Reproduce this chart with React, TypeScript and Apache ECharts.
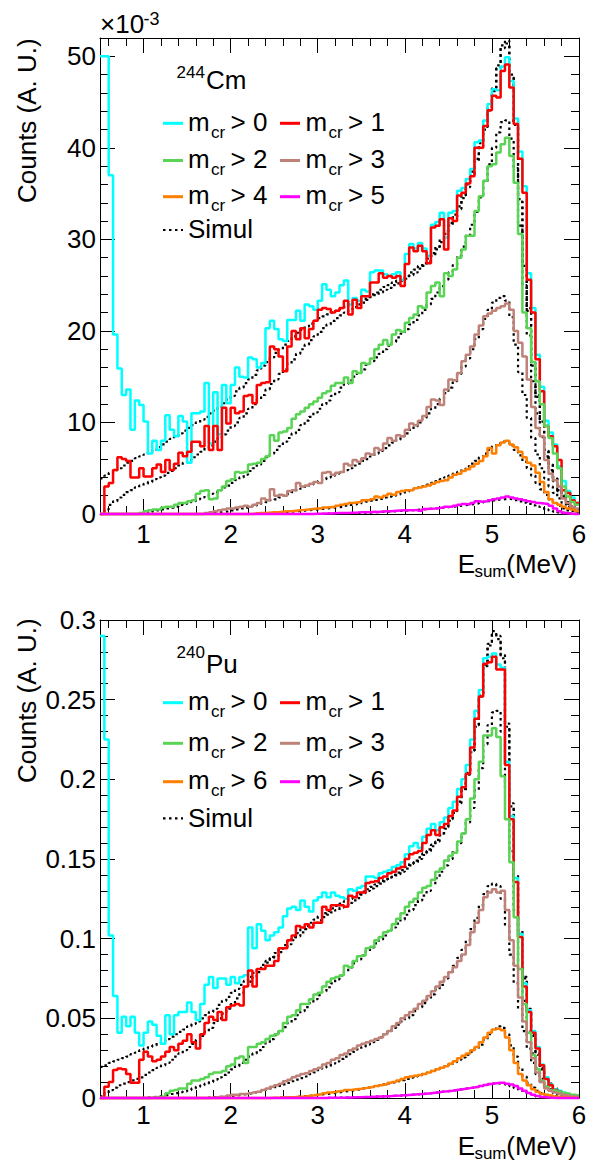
import React, { useEffect, useRef } from "react";
import * as echarts from "echarts";

// ---------- binning (E_sum in MeV) ----------
const E_MIN = 0.5;
const E_MAX = 6;
const BIN_W = 0.05;

// ---------- tick values ----------
const X_MAJOR = [1, 2, 3, 4, 5, 6];
const X_MINOR = [0.6, 0.8, 1.2, 1.4, 1.6, 1.8, 2.2, 2.4, 2.6, 2.8, 3.2, 3.4, 3.6, 3.8, 4.2, 4.4, 4.6, 4.8, 5.2, 5.4, 5.6, 5.8];
const Y_TOP_MAJOR = [0, 10, 20, 30, 40, 50];
const Y_TOP_MINOR = [2, 4, 6, 8, 12, 14, 16, 18, 22, 24, 26, 28, 32, 34, 36, 38, 42, 44, 46, 48];
const Y_BOT_MAJOR = [0, 0.05, 0.1, 0.15, 0.2, 0.25, 0.3];
const Y_BOT_MINOR = [0.01, 0.02, 0.03, 0.04, 0.06, 0.07, 0.08, 0.09, 0.11, 0.12, 0.13, 0.14, 0.16, 0.17, 0.18, 0.19, 0.21, 0.22, 0.23, 0.24, 0.26, 0.27, 0.28, 0.29];

// ---------- 244Cm panel, counts in units of 1e-3 ----------
const cmM0 = [
  50, 50, 37, 19.6, 15.9, 13.0, 13.6, 9.2, 12.4, 11.9,
  10.1, 6.6, 8.0, 7.0, 8.0, 10.8, 9.2, 8.5, 10.7, 10.1,
  5.6, 11.0, 11.0, 11.2, 14.3, 7.7, 13.3, 8.7, 14.1, 12.1,
  14.1, 16.0, 15.0, 14.9, 17.1, 16.9, 16.0, 16.5, 20.3, 21.1,
  20.2, 19.1, 18.9, 21.2, 21.2, 22.2, 21.1, 22.9, 22.7, 22.3,
  23.3, 25.1, 24.5, 23.8, 24.2, 25.0, 25.5, 22.9, 23.6, 23.3,
  24.5, 24.3, 26.4, 26.6, 26.6, 26.2, 26.0, 26.2, 26.4, 25.6,
  28.4, 29.5, 29.0, 29.6, 29.0, 28.2, 31.6, 31.9, 32.9, 30.2,
  32.9, 33.1, 35.3, 35.6, 36.6, 37.7, 40.6, 40.8, 43.0, 44.8,
  46.4, 46.3, 48.9, 49.9, 47.3, 43.2, 39.6, 35.8, 26.3, 22.5,
  17.4, 13.9, 10.2, 8.9, 7.6, 5.2, 3.6, 2.5, 1.8, 1.2,
];
const cmM1 = [
  0, 3.0, 3.4, 4.8, 6.2, 6.0, 5.8, 4.0, 4.0, 5.0,
  4.1, 4.1, 5.0, 5.4, 4.6, 5.9, 4.8, 5.5, 6.7, 6.3,
  6.8, 7.9, 7.9, 7.4, 9.6, 7.0, 9.6, 7.0, 11.6, 9.9,
  11.6, 11.0, 11.2, 12.9, 13.0, 12.1, 14.1, 14.3, 14.4, 18.3,
  18.0, 17.2, 15.6, 18.3, 20.0, 19.1, 20.3, 19.2, 20.2, 21.1,
  22.3, 22.5, 22.4, 22.0, 22.2, 22.5, 23.3, 21.8, 23.4, 22.5,
  23.8, 23.8, 25.3, 25.3, 26.3, 25.8, 26.0, 25.8, 26.0, 24.9,
  27.3, 29.1, 28.7, 29.3, 28.7, 27.4, 31.3, 31.5, 32.2, 28.9,
  32.3, 32.0, 34.8, 35.1, 36.1, 36.9, 40.0, 40.0, 42.4, 44.1,
  45.7, 45.5, 48.4, 49.1, 46.6, 42.6, 38.8, 35.1, 25.6, 22.0,
  16.9, 13.4, 9.6, 8.5, 7.4, 5.9, 2.6, 2.3, 1.5, 1.2,
];
const cmM2 = [
  0, 0, 0, 0, 0, 0, 0, 0, 0, 0.1,
  0.3, 0.4, 0.5, 0.5, 0.7, 0.8, 0.8, 1.0, 1.2, 1.2,
  1.4, 1.5, 2.2, 2.5, 2.6, 1.6, 1.7, 2.6, 3.0, 3.6,
  3.8, 4.6, 4.5, 4.6, 5.4, 5.5, 5.6, 6.0, 6.3, 8.6,
  8.0, 8.9, 9.0, 9.4, 10.4, 10.9, 11.2, 11.6, 12.0, 12.3,
  12.7, 13.2, 13.4, 14.0, 14.3, 14.3, 14.9, 14.3, 15.6, 15.4,
  16.5, 16.4, 17.0, 18.0, 18.5, 19.0, 18.5, 19.6, 20.1, 19.9,
  20.9, 21.4, 21.8, 22.7, 22.5, 24.2, 24.9, 25.3, 23.8, 26.3,
  26.0, 26.7, 28.0, 28.9, 30.4, 30.4, 33.1, 34.7, 36.4, 38.0,
  38.2, 39.5, 40.4, 41.1, 39.1, 36.2, 30.6, 22.0, 20.3, 16.6,
  14.5, 12.0, 9.6, 8.3, 6.6, 5.0, 3.0, 1.9, 1.3, 1.0,
];
const cmM3 = [
  0, 0, 0, 0, 0, 0, 0, 0, 0, 0,
  0, 0, 0, 0, 0, 0, 0, 0, 0, 0,
  0, 0, 0, 0, 0.1, 0.2, 0.3, 0.4, 0.5, 0.6,
  0.6, 0.7, 0.8, 0.9, 0.8, 1.0, 1.2, 1.7, 1.5, 2.7,
  2.0, 2.1, 2.0, 2.5, 2.6, 3.4, 3.0, 3.1, 3.3, 3.5,
  3.4, 4.5, 4.6, 4.3, 4.5, 4.6, 5.5, 5.3, 5.9, 5.7,
  6.1, 6.6, 6.5, 7.2, 7.0, 7.7, 8.3, 8.0, 8.6, 8.5,
  9.2, 9.9, 9.7, 10.2, 10.7, 11.7, 12.5, 12.4, 11.9, 13.6,
  14.7, 14.6, 15.4, 16.7, 17.4, 18.3, 19.6, 20.6, 21.6, 21.9,
  22.2, 22.5, 22.7, 23.0, 22.3, 20.0, 18.7, 17.2, 14.7, 11.7,
  9.4, 8.5, 5.9, 4.4, 3.7, 3.0, 1.7, 1.2, 0.8, 0.6,
];
const cmM4 = [
  0, 0, 0, 0, 0, 0, 0, 0, 0, 0,
  0, 0, 0, 0, 0, 0, 0, 0, 0, 0,
  0, 0, 0, 0, 0, 0, 0, 0, 0, 0,
  0, 0, 0, 0, 0, 0.05, 0.1, 0.1, 0.15, 0.2,
  0.2, 0.25, 0.3, 0.3, 0.35, 0.4, 0.45, 0.5, 0.55, 0.6,
  0.6, 0.7, 0.75, 0.8, 0.9, 1.0, 1.1, 1.2, 1.25, 1.3,
  1.5, 1.5, 1.6, 1.9, 1.8, 2.0, 2.2, 2.1, 2.4, 2.5,
  2.6, 2.6, 2.8, 2.9, 3.0, 3.1, 3.3, 3.5, 3.6, 3.7,
  4.0, 4.3, 4.4, 4.7, 4.9, 5.2, 5.5, 5.8, 6.3, 7.2,
  6.6, 7.5, 7.8, 8.0, 7.6, 7.3, 6.8, 6.2, 5.6, 5.3,
  4.5, 3.5, 2.4, 1.6, 1.2, 1.0, 0.8, 0.6, 0.5, 0.3,
];
const cmM5 = [
  0, 0, 0, 0, 0, 0, 0, 0, 0, 0,
  0, 0, 0, 0, 0, 0, 0, 0, 0, 0,
  0, 0, 0, 0, 0, 0, 0, 0, 0, 0,
  0, 0, 0, 0, 0, 0, 0, 0, 0, 0,
  0, 0, 0, 0, 0, 0, 0, 0, 0, 0.02,
  0.03, 0.05, 0.05, 0.08, 0.1, 0.1, 0.12, 0.15, 0.15, 0.18,
  0.2, 0.2, 0.25, 0.22, 0.28, 0.3, 0.3, 0.35, 0.38, 0.4,
  0.42, 0.4, 0.45, 0.35, 0.55, 0.58, 0.6, 0.65, 0.72, 0.8,
  0.8, 0.9, 1.0, 1.1, 1.05, 1.2, 1.4, 1.35, 1.4, 1.5,
  1.6, 1.7, 1.8, 1.9, 1.8, 1.7, 1.6, 1.5, 1.4, 1.3,
  1.2, 1.15, 1.1, 0.9, 0.6, 0.3, 0.1, 0.05, 0, 0,
];
const cmS0 = [
  3.9, 4.2, 4.5, 4.8, 5.0, 5.3, 5.6, 5.8, 6.1, 6.3,
  6.5, 6.8, 7.0, 7.3, 7.6, 7.9, 8.2, 8.5, 8.8, 9.1,
  9.4, 9.7, 10.0, 10.3, 10.6, 11.0, 11.3, 11.7, 12.1, 12.5,
  12.9, 13.4, 13.8, 14.3, 14.7, 15.2, 15.7, 16.2, 16.6, 17.1,
  17.6, 18.0, 18.5, 18.9, 19.4, 19.8, 20.1, 20.5, 20.8, 21.1,
  21.4, 21.6, 21.8, 22.0, 22.2, 22.4, 22.6, 22.8, 23.0, 23.2,
  23.4, 23.7, 24.0, 24.2, 24.5, 24.8, 25.0, 25.3, 25.5, 25.8,
  26.0, 26.4, 26.7, 27.1, 27.4, 27.9, 28.5, 29.2, 30.0, 30.9,
  31.8, 32.7, 33.6, 34.8, 36.0, 37.4, 38.8, 40.5, 42.3, 44.4,
  46.5, 49.0, 51.2, 51.7, 48.0, 42.8, 34.4, 27.4, 22.5, 16.5,
  13.0, 10.3, 7.0, 5.5, 4.0, 2.6, 2.0, 1.2, 0.8, 0.5,
];
const cmS1 = [
  0, 0.5, 1.0, 1.4, 1.8, 2.1, 2.4, 2.6, 2.9, 3.1,
  3.3, 3.5, 3.8, 4.0, 4.2, 4.5, 4.7, 5.0, 5.3, 5.6,
  5.9, 6.2, 6.5, 6.8, 7.2, 7.5, 7.9, 8.3, 8.7, 9.1,
  9.6, 10.0, 10.5, 11.0, 11.5, 12.0, 12.5, 13.0, 13.6, 14.2,
  14.7, 15.3, 15.8, 16.4, 16.9, 17.5, 18.0, 18.5, 19.0, 19.4,
  19.9, 20.3, 20.7, 21.1, 21.4, 21.7, 22.0, 22.3, 22.6, 22.9,
  23.1, 23.4, 23.7, 23.9, 24.2, 24.5, 24.7, 25.0, 25.2, 25.5,
  25.7, 26.1, 26.4, 26.8, 27.1, 27.6, 28.2, 28.9, 29.7, 30.6,
  31.5, 32.4, 33.3, 34.5, 35.7, 37.1, 38.5, 40.2, 42.0, 44.1,
  46.2, 48.7, 50.9, 51.4, 47.7, 42.5, 34.1, 27.1, 22.2, 16.2,
  12.8, 10.1, 6.9, 5.4, 3.9, 2.5, 1.9, 1.1, 0.7, 0.4,
];
const cmS2 = [
  0, 0, 0, 0, 0, 0, 0, 0, 0, 0,
  0.1, 0.2, 0.3, 0.4, 0.5, 0.6, 0.7, 0.8, 1.0, 1.1,
  1.3, 1.4, 1.6, 1.8, 2.0, 2.2, 2.4, 2.6, 2.9, 3.1,
  3.4, 3.7, 4.0, 4.3, 4.7, 5.0, 5.4, 5.8, 6.2, 6.6,
  7.0, 7.4, 7.9, 8.3, 8.8, 9.2, 9.7, 10.2, 10.6, 11.1,
  11.5, 12.0, 12.4, 12.9, 13.3, 13.8, 14.2, 14.6, 15.0, 15.4,
  15.8, 16.3, 16.7, 17.1, 17.5, 18.0, 18.4, 18.8, 19.3, 19.7,
  20.2, 20.7, 21.2, 21.7, 22.3, 22.9, 23.5, 24.2, 24.9, 25.6,
  26.4, 27.2, 28.2, 29.2, 30.4, 31.6, 33.0, 34.6, 36.3, 38.2,
  40.0, 41.7, 42.8, 43.0, 41.0, 37.8, 31.5, 25.0, 19.5, 14.5,
  11.0, 8.4, 6.3, 4.8, 3.6, 2.6, 1.9, 1.3, 0.9, 0.5,
];
const cmS3 = [
  0, 0, 0, 0, 0, 0, 0, 0, 0, 0,
  0, 0, 0, 0, 0, 0, 0, 0, 0, 0,
  0, 0, 0, 0, 0.05, 0.1, 0.15, 0.2, 0.25, 0.3,
  0.4, 0.5, 0.6, 0.7, 0.8, 0.9, 1.0, 1.2, 1.3, 1.5,
  1.6, 1.8, 2.0, 2.2, 2.4, 2.6, 2.8, 3.0, 3.2, 3.4,
  3.6, 3.8, 4.0, 4.2, 4.4, 4.6, 4.8, 5.0, 5.3, 5.5,
  5.8, 6.0, 6.3, 6.6, 6.9, 7.2, 7.5, 7.8, 8.1, 8.5,
  8.8, 9.2, 9.6, 10.0, 10.5, 11.0, 11.5, 12.0, 12.6, 13.2,
  13.8, 14.5, 15.3, 16.1, 17.0, 18.0, 19.1, 20.2, 21.3, 22.3,
  23.1, 23.6, 23.8, 23.3, 21.5, 18.5, 15.5, 13.0, 10.5, 8.3,
  6.5, 5.0, 3.9, 3.0, 2.3, 1.7, 1.2, 0.8, 0.5, 0.3,
];
const cmS4 = [
  0, 0, 0, 0, 0, 0, 0, 0, 0, 0,
  0, 0, 0, 0, 0, 0, 0, 0, 0, 0,
  0, 0, 0, 0, 0, 0, 0, 0, 0, 0,
  0, 0, 0, 0, 0, 0.05, 0.08, 0.1, 0.12, 0.15,
  0.18, 0.2, 0.23, 0.26, 0.3, 0.33, 0.37, 0.4, 0.45, 0.5,
  0.55, 0.6, 0.65, 0.7, 0.75, 0.8, 0.9, 1.0, 1.05, 1.15,
  1.25, 1.35, 1.45, 1.55, 1.65, 1.8, 1.9, 2.0, 2.15, 2.3,
  2.45, 2.6, 2.75, 2.9, 3.05, 3.2, 3.4, 3.6, 3.8, 4.0,
  4.2, 4.4, 4.6, 4.9, 5.2, 5.5, 5.8, 6.2, 6.6, 7.0,
  7.4, 7.7, 7.9, 7.9, 7.5, 7.0, 6.4, 5.7, 5.0, 4.2,
  3.4, 2.7, 2.1, 1.6, 1.2, 0.9, 0.6, 0.4, 0.3, 0.2,
];
const cmS5 = [
  0, 0, 0, 0, 0, 0, 0, 0, 0, 0,
  0, 0, 0, 0, 0, 0, 0, 0, 0, 0,
  0, 0, 0, 0, 0, 0, 0, 0, 0, 0,
  0, 0, 0, 0, 0, 0, 0, 0, 0, 0,
  0, 0, 0, 0, 0, 0, 0, 0, 0, 0,
  0.02, 0.03, 0.04, 0.05, 0.06, 0.07, 0.08, 0.1, 0.11, 0.13,
  0.15, 0.17, 0.19, 0.21, 0.23, 0.25, 0.28, 0.3, 0.33, 0.36,
  0.39, 0.42, 0.45, 0.49, 0.52, 0.56, 0.6, 0.64, 0.69, 0.74,
  0.79, 0.84, 0.9, 0.96, 1.02, 1.09, 1.16, 1.24, 1.32, 1.4,
  1.48, 1.56, 1.62, 1.65, 1.6, 1.5, 1.38, 1.25, 1.1, 0.95,
  0.8, 0.65, 0.5, 0.38, 0.27, 0.18, 0.12, 0.07, 0.04, 0.02,
];

// ---------- 240Pu panel, counts in units of 1e-2 ----------
const puM0 = [
  29.0, 22.5, 10.2, 6.4, 4.1, 5.1, 4.5, 5.1, 4.1, 3.3,
  4.1, 4.8, 4.6, 3.9, 3.4, 5.2, 4.0, 5.2, 5.4, 5.4,
  6.0, 5.4, 4.9, 5.9, 7.1, 7.6, 6.9, 7.5, 7.5, 7.1,
  7.6, 7.2, 7.6, 7.7, 10.7, 9.4, 10.9, 10.5, 9.9, 10.2,
  10.4, 10.7, 11.4, 11.9, 12.0, 11.8, 12.4, 12.0, 11.7, 12.4,
  12.6, 12.9, 12.6, 12.9, 12.7, 12.6, 12.5, 13.1, 13.0, 13.2,
  13.3, 13.9, 13.9, 13.8, 14.1, 14.2, 14.3, 14.5, 14.6, 14.8,
  15.3, 15.8, 16.0, 15.7, 16.4, 16.9, 17.2, 16.8, 17.3, 17.6,
  18.2, 18.6, 19.4, 20.0, 20.9, 22.5, 24.3, 25.6, 27.6, 27.7,
  27.9, 27.2, 27.0, 21.1, 17.7, 13.8, 10.3, 7.2, 5.5, 4.2,
  3.2, 2.1, 1.3, 0.85, 0.55, 0.45, 0.35, 0.25, 0.15, 0.1,
];
const puM1 = [
  0, 0.7, 1.0, 1.75, 1.85, 1.8, 1.5, 0.95, 0.95, 2.4,
  2.9, 2.6, 2.3, 2.4, 2.6, 2.9, 3.2, 3.0, 3.4, 3.6,
  4.0, 3.5, 3.1, 4.0, 4.7, 5.1, 4.9, 5.4, 4.9, 5.7,
  5.8, 5.9, 5.8, 7.0, 8.0, 7.0, 8.1, 8.1, 8.3, 8.3,
  8.6, 9.4, 9.4, 9.9, 10.2, 10.8, 10.7, 10.9, 10.7, 11.0,
  11.0, 12.0, 11.8, 12.1, 12.1, 12.1, 12.0, 12.7, 12.6, 12.9,
  12.9, 13.5, 13.55, 13.6, 13.8, 13.9, 14.1, 14.2, 14.4, 14.5,
  15.0, 15.3, 15.4, 15.5, 16.0, 16.5, 16.8, 16.5, 17.0, 17.2,
  17.7, 18.05, 18.9, 19.5, 20.35, 22.0, 23.8, 25.2, 27.25, 27.35,
  27.7, 26.9, 26.9, 20.9, 17.5, 13.55, 10.1, 7.0, 5.4, 4.1,
  3.1, 2.05, 1.2, 0.8, 0.5, 0.4, 0.3, 0.2, 0.1, 0.06,
];
const puM2 = [
  0, 0, 0, 0, 0, 0, 0, 0, 0, 0,
  0, 0.02, 0.05, 0.08, 0.1, 0.3, 0.45, 0.5, 0.6, 0.6,
  0.9, 1.1, 1.1, 1.2, 1.3, 1.5, 1.6, 1.6, 1.7, 2.0,
  2.1, 2.5, 2.6, 2.2, 3.2, 3.2, 3.4, 3.5, 3.7, 3.9,
  4.0, 4.2, 4.7, 5.1, 5.2, 5.5, 5.9, 5.9, 6.2, 6.5,
  6.6, 7.0, 7.3, 7.5, 7.6, 7.7, 8.3, 8.2, 8.6, 8.9,
  8.95, 9.4, 9.5, 9.9, 10.1, 10.4, 10.5, 10.9, 11.25, 11.6,
  12.0, 12.3, 12.5, 12.9, 13.2, 13.3, 13.7, 14.2, 14.4, 14.9,
  15.2, 15.4, 16.1, 16.6, 17.5, 18.8, 20.0, 21.1, 22.75, 22.75,
  23.2, 22.65, 20.2, 17.5, 14.8, 11.35, 8.1, 5.9, 4.1, 2.7,
  1.8, 1.1, 0.7, 0.48, 0.45, 0.4, 0.3, 0.27, 0.2, 0.16,
];
const puM3 = [
  0, 0, 0, 0, 0, 0, 0, 0, 0, 0,
  0, 0, 0, 0, 0, 0, 0, 0, 0, 0,
  0, 0, 0, 0, 0, 0.02, 0.05, 0.08, 0.1, 0.15,
  0.2, 0.2, 0.25, 0.25, 0.3, 0.35, 0.4, 0.5, 0.6, 0.7,
  0.8, 0.9, 1.05, 1.15, 1.3, 1.4, 1.5, 1.55, 1.7, 1.8,
  1.9, 2.1, 2.2, 2.4, 2.5, 2.7, 2.8, 3.0, 3.1, 3.3,
  3.4, 3.5, 3.6, 3.7, 3.8, 4.0, 4.2, 4.5, 4.7, 5.0,
  5.2, 5.4, 5.6, 5.9, 6.1, 6.4, 6.7, 7.0, 7.3, 7.6,
  7.9, 8.2, 8.6, 9.0, 9.6, 10.4, 11.0, 11.8, 12.6, 12.9,
  13.1, 12.9, 13.0, 11.8, 9.9, 8.3, 6.3, 4.8, 3.5, 2.5,
  1.6, 1.0, 0.6, 0.45, 0.35, 0.28, 0.2, 0.15, 0.1, 0.06,
];
const puM4 = [
  0, 0, 0, 0, 0, 0, 0, 0, 0, 0,
  0, 0, 0, 0, 0, 0, 0, 0, 0, 0,
  0, 0, 0, 0, 0, 0, 0, 0, 0, 0,
  0, 0, 0, 0, 0, 0, 0, 0, 0, 0.01,
  0.02, 0.03, 0.04, 0.05, 0.06, 0.08, 0.1, 0.13, 0.16, 0.2,
  0.24, 0.3, 0.35, 0.38, 0.42, 0.45, 0.5, 0.52, 0.55, 0.58,
  0.62, 0.66, 0.7, 0.75, 0.8, 0.85, 0.95, 1.0, 1.1, 1.2,
  1.3, 1.35, 1.4, 1.45, 1.5, 1.6, 1.7, 1.8, 1.9, 2.0,
  2.15, 2.3, 2.5, 2.65, 2.8, 3.0, 3.2, 3.5, 3.8, 4.1,
  4.3, 4.35, 4.25, 3.8, 3.0, 2.2, 1.5, 1.1, 0.8, 0.55,
  0.4, 0.27, 0.2, 0.15, 0.1, 0.07, 0.05, 0.03, 0.02, 0.01,
];
const puM5 = [
  0, 0, 0, 0, 0, 0, 0, 0, 0, 0,
  0, 0, 0, 0, 0, 0, 0, 0, 0, 0,
  0, 0, 0, 0, 0, 0, 0, 0, 0, 0,
  0, 0, 0, 0, 0, 0, 0, 0, 0, 0,
  0, 0, 0, 0, 0, 0, 0, 0, 0, 0,
  0, 0, 0.01, 0.01, 0.02, 0.02, 0.03, 0.03, 0.04, 0.05,
  0.06, 0.07, 0.08, 0.09, 0.1, 0.11, 0.12, 0.14, 0.15, 0.17,
  0.19, 0.21, 0.23, 0.25, 0.27, 0.3, 0.33, 0.36, 0.4, 0.43,
  0.46, 0.5, 0.54, 0.58, 0.62, 0.66, 0.7, 0.76, 0.82, 0.88,
  0.92, 0.96, 0.95, 0.9, 0.85, 0.75, 0.6, 0.45, 0.32, 0.2,
  0.12, 0.06, 0.03, 0.01, 0, 0, 0, 0, 0, 0,
];
const puS0 = [
  1.95, 2.05, 2.2, 2.3, 2.4, 2.5, 2.6, 2.75, 2.85, 3.0,
  3.1, 3.2, 3.3, 3.45, 3.55, 3.7, 3.85, 4.0, 4.15, 4.3,
  4.5, 4.65, 4.8, 5.0, 5.2, 5.4, 5.6, 5.85, 6.1, 6.35,
  6.6, 6.85, 7.1, 7.35, 7.6, 7.85, 8.1, 8.35, 8.6, 8.85,
  9.1, 9.35, 9.6, 9.85, 10.1, 10.35, 10.6, 10.8, 11.0, 11.2,
  11.4, 11.6, 11.75, 11.9, 12.05, 12.2, 12.35, 12.5, 12.65, 12.8,
  12.95, 13.1, 13.25, 13.4, 13.55, 13.7, 13.85, 14.0, 14.15, 14.3,
  14.5, 14.7, 14.9, 15.1, 15.35, 15.6, 15.9, 16.2, 16.6, 17.0,
  17.5, 18.0, 18.6, 19.4, 20.4, 21.8, 23.4, 25.3, 27.2, 28.5,
  29.3, 29.0, 27.8, 23.5, 18.5, 14.0, 10.5, 7.6, 5.6, 4.0,
  2.8, 1.9, 1.3, 0.9, 0.6, 0.4, 0.3, 0.2, 0.15, 0.1,
];
const puS1 = [
  0.1, 0.3, 0.5, 0.65, 0.8, 0.9, 1.0, 1.1, 1.2, 1.3,
  1.45, 1.6, 1.75, 1.9, 2.05, 2.2, 2.4, 2.6, 2.8, 3.0,
  3.2, 3.4, 3.65, 3.9, 4.15, 4.4, 4.7, 5.0, 5.3, 5.6,
  5.9, 6.25, 6.6, 6.95, 7.3, 7.6, 7.9, 8.2, 8.5, 8.8,
  8.9, 9.15, 9.4, 9.65, 9.9, 10.15, 10.4, 10.6, 10.8, 11.0,
  11.15, 11.35, 11.5, 11.65, 11.8, 11.95, 12.1, 12.25, 12.4, 12.55,
  12.85, 13.0, 13.15, 13.3, 13.45, 13.6, 13.75, 13.9, 14.05, 14.2,
  14.4, 14.6, 14.8, 15.0, 15.25, 15.5, 15.8, 16.1, 16.5, 16.9,
  17.4, 17.9, 18.5, 19.3, 20.3, 21.7, 23.3, 25.2, 27.1, 28.4,
  29.1, 28.8, 27.6, 23.3, 18.3, 13.8, 10.3, 7.5, 5.5, 3.9,
  2.7, 1.8, 1.25, 0.85, 0.55, 0.38, 0.28, 0.18, 0.12, 0.08,
];
const puS2 = [
  0, 0, 0, 0, 0, 0, 0, 0, 0, 0,
  0.02, 0.05, 0.08, 0.12, 0.16, 0.2, 0.25, 0.3, 0.36, 0.42,
  0.5, 0.6, 0.7, 0.8, 0.9, 1.0, 1.15, 1.3, 1.45, 1.6,
  1.8, 2.0, 2.2, 2.4, 2.6, 2.8, 3.0, 3.2, 3.45, 3.7,
  3.95, 4.2, 4.45, 4.7, 4.95, 5.2, 5.45, 5.7, 5.95, 6.2,
  6.45, 6.7, 6.95, 7.2, 7.45, 7.7, 7.95, 8.2, 8.45, 8.7,
  8.95, 9.2, 9.45, 9.7, 9.95, 10.2, 10.45, 10.7, 10.95, 11.2,
  11.5, 11.8, 12.1, 12.4, 12.7, 13.0, 13.4, 13.8, 14.2, 14.6,
  15.0, 15.5, 16.0, 16.6, 17.3, 18.2, 19.3, 20.7, 22.2, 23.4,
  24.2, 24.3, 23.0, 19.5, 15.5, 11.8, 8.6, 6.1, 4.2, 2.8,
  1.9, 1.2, 0.8, 0.55, 0.4, 0.3, 0.2, 0.15, 0.1, 0.08,
];
const puS3 = [
  0, 0, 0, 0, 0, 0, 0, 0, 0, 0,
  0, 0, 0, 0, 0, 0, 0, 0, 0, 0,
  0, 0, 0, 0, 0.02, 0.04, 0.06, 0.08, 0.1, 0.12,
  0.15, 0.18, 0.22, 0.26, 0.3, 0.35, 0.4, 0.46, 0.52, 0.6,
  0.68, 0.76, 0.85, 0.95, 1.05, 1.15, 1.25, 1.35, 1.5, 1.6,
  1.75, 1.9, 2.0, 2.15, 2.3, 2.45, 2.6, 2.75, 2.9, 3.05,
  3.2, 3.35, 3.5, 3.65, 3.8, 4.0, 4.2, 4.4, 4.6, 4.8,
  5.0, 5.2, 5.45, 5.7, 5.95, 6.2, 6.5, 6.8, 7.1, 7.5,
  7.9, 8.3, 8.8, 9.3, 9.9, 10.6, 11.3, 12.1, 12.8, 13.3,
  13.45, 13.3, 12.5, 10.8, 9.0, 7.2, 5.6, 4.2, 3.1, 2.2,
  1.5, 1.0, 0.7, 0.45, 0.3, 0.2, 0.15, 0.1, 0.06, 0.04,
];
const puS4 = [
  0, 0, 0, 0, 0, 0, 0, 0, 0, 0,
  0, 0, 0, 0, 0, 0, 0, 0, 0, 0,
  0, 0, 0, 0, 0, 0, 0, 0, 0, 0,
  0, 0, 0, 0, 0, 0, 0, 0, 0, 0,
  0.02, 0.03, 0.04, 0.05, 0.07, 0.09, 0.11, 0.13, 0.16, 0.19,
  0.22, 0.25, 0.28, 0.31, 0.35, 0.39, 0.43, 0.47, 0.51, 0.55,
  0.6, 0.65, 0.7, 0.75, 0.8, 0.86, 0.92, 0.98, 1.05, 1.12,
  1.2, 1.28, 1.36, 1.44, 1.52, 1.6, 1.7, 1.8, 1.9, 2.0,
  2.12, 2.25, 2.4, 2.55, 2.72, 2.9, 3.1, 3.35, 3.65, 4.0,
  4.35, 4.5, 4.4, 4.0, 3.3, 2.6, 1.9, 1.35, 0.95, 0.65,
  0.45, 0.3, 0.2, 0.14, 0.1, 0.07, 0.05, 0.03, 0.02, 0.01,
];
const puS5 = [
  0, 0, 0, 0, 0, 0, 0, 0, 0, 0,
  0, 0, 0, 0, 0, 0, 0, 0, 0, 0,
  0, 0, 0, 0, 0, 0, 0, 0, 0, 0,
  0, 0, 0, 0, 0, 0, 0, 0, 0, 0,
  0, 0, 0, 0, 0, 0, 0, 0, 0, 0,
  0, 0, 0.01, 0.01, 0.02, 0.02, 0.03, 0.03, 0.04, 0.05,
  0.06, 0.07, 0.08, 0.09, 0.1, 0.11, 0.12, 0.14, 0.15, 0.17,
  0.19, 0.21, 0.23, 0.25, 0.27, 0.3, 0.33, 0.36, 0.4, 0.43,
  0.46, 0.5, 0.54, 0.58, 0.62, 0.66, 0.7, 0.75, 0.8, 0.85,
  0.9, 0.92, 0.9, 0.84, 0.75, 0.62, 0.48, 0.35, 0.24, 0.15,
  0.09, 0.05, 0.03, 0.02, 0.01, 0, 0, 0, 0, 0,
];

// ---------- legend texts ----------
const CM_THRESH = ["0", "1", "2", "3", "4", "5"];
const PU_THRESH = ["0", "1", "2", "3", "6", "6"];
const SIM_LABEL = "Simul";

const COLORS = ["#00ffff", "#ff0000", "#59d454", "#bf8278", "#ff7f00", "#ff00ff"];
const FONT = "'Liberation Sans', Arial, Helvetica, sans-serif";
const BLACK = "#000000";
const DOT: number[] = [2.5, 3.5];

function hist(vals: number[], scale: number) {
  const d: number[][] = vals.map((v, i) => [+(E_MIN + BIN_W * i).toFixed(2), +(v * scale).toPrecision(6)]);
  d.push([E_MAX, +(vals[vals.length - 1] * scale).toPrecision(6)]);
  return d;
}

function series(vals: number[], scale: number, color: string, dotted: boolean, axisIdx: number) {
  return {
    type: "line",
    xAxisIndex: axisIdx,
    yAxisIndex: axisIdx,
    data: hist(vals, scale),
    step: "end",
    symbol: "none",
    showSymbol: false,
    clip: false,
    silent: true,
    emphasis: { disabled: true },
    lineStyle: { color, width: dotted ? 2.2 : 2.5, type: dotted ? DOT : "solid", cap: "butt" },
  };
}

function text(x: number, baseline: number, str: string, size: number, align = "left", extra: any = {}) {
  return {
    type: "text",
    x,
    y: baseline - 0.3465 * size,
    z: 100,
    silent: true,
    style: {
      text: str,
      fontSize: size,
      fontFamily: FONT,
      fill: BLACK,
      align,
      verticalAlign: "middle",
      textAlign: align,
      textVerticalAlign: "middle",
    },
    ...extra,
  };
}

function seg(x1: number, x2: number, y: number, color: string, dotted: boolean) {
  return {
    type: "line",
    z: 100,
    silent: true,
    shape: { x1, y1: y, x2, y2: y },
    style: { stroke: color, lineWidth: dotted ? 2.2 : 3, lineDash: dotted ? DOT : null },
  };
}

function legendGraphics(thresh: string[], rows: number[], simRow: number, supTxt: string, mainTxt: string, supBase: number, mainBase: number) {
  const g: any[] = [];
  g.push(text(176.5, supBase, supTxt, 17));
  g.push(text(206, mainBase, mainTxt, 26));
  const cols = [
    { lx1: 163, lx2: 183, tx: 188 },
    { lx1: 280, lx2: 300, tx: 305.5 },
  ];
  thresh.forEach((t, i) => {
    const r = Math.floor(i / 2);
    const c = cols[i % 2];
    const ly = rows[r];
    const base = ly + 7.5;
    g.push(seg(c.lx1, c.lx2, ly, COLORS[i], false));
    g.push(text(c.tx, base, "m", 26));
    g.push(text(c.tx + 23, base + 7.5, "cr", 17));
    g.push(text(c.tx + 42.5, base, "> " + t, 26));
  });
  g.push(seg(163, 183, simRow, BLACK, true));
  g.push(text(188, simRow + 8.5, SIM_LABEL, 26));
  return g;
}

function axisTitleGraphics(frameTop: number, xBase: number) {
  return [
    {
      type: "text",
      x: 27,
      y: frameTop,
      rotation: Math.PI / 2,
      z: 100,
      silent: true,
      style: {
        text: "Counts (A. U.)",
        fontSize: 26,
        fontFamily: FONT,
        fill: BLACK,
        align: "right",
        verticalAlign: "middle",
        textAlign: "right",
        textVerticalAlign: "middle",
      },
    },
    text(577, xBase, "(MeV)", 26, "right"),
    text(506.5, xBase + 4.5, "sum", 17, "right"),
    text(475, xBase, "E", 26, "right"),
  ];
}

function xAxes(g: number, labelMargin: number) {
  const base = {
    gridIndex: g,
    type: "value",
    min: E_MIN,
    max: E_MAX,
    interval: 0.5,
    splitLine: { show: false },
  };
  const line = { show: true, onZero: false, lineStyle: { color: BLACK, width: 1 } };
  const tl = { color: BLACK, width: 1 };
  return [
    {
      ...base,
      position: "bottom",
      axisLine: line,
      axisTick: { show: true, inside: true, length: 15, customValues: X_MAJOR, lineStyle: tl },
      axisLabel: { show: true, customValues: X_MAJOR, fontSize: 26, fontFamily: FONT, color: BLACK, margin: labelMargin },
    },
    {
      ...base,
      position: "bottom",
      axisLine: { show: false, onZero: false },
      axisTick: { show: true, inside: true, length: 8, customValues: X_MINOR, lineStyle: tl },
      axisLabel: { show: false },
    },
    {
      ...base,
      position: "top",
      axisLine: line,
      axisTick: { show: true, inside: true, length: 15, customValues: X_MAJOR, lineStyle: tl },
      axisLabel: { show: false },
    },
    {
      ...base,
      position: "top",
      axisLine: { show: false, onZero: false },
      axisTick: { show: true, inside: true, length: 8, customValues: X_MINOR, lineStyle: tl },
      axisLabel: { show: false },
    },
  ];
}

function yAxes(g: number, max: number, interval: number, major: number[], minor: number[]) {
  const base = {
    gridIndex: g,
    type: "value",
    min: 0,
    max,
    interval,
    splitLine: { show: false },
  };
  const line = { show: true, onZero: false, lineStyle: { color: BLACK, width: 1 } };
  const tl = { color: BLACK, width: 1 };
  return [
    {
      ...base,
      position: "left",
      axisLine: line,
      axisTick: { show: true, inside: true, length: 15, customValues: major, lineStyle: tl },
      axisLabel: { show: true, customValues: major, fontSize: 26, fontFamily: FONT, color: BLACK, margin: 4 },
    },
    {
      ...base,
      position: "left",
      axisLine: { show: false, onZero: false },
      axisTick: { show: true, inside: true, length: 8, customValues: minor, lineStyle: tl },
      axisLabel: { show: false },
    },
    {
      ...base,
      position: "right",
      axisLine: line,
      axisTick: { show: true, inside: true, length: 15, customValues: major, lineStyle: tl },
      axisLabel: { show: false },
    },
    {
      ...base,
      position: "right",
      axisLine: { show: false, onZero: false },
      axisTick: { show: true, inside: true, length: 8, customValues: minor, lineStyle: tl },
      axisLabel: { show: false },
    },
  ];
}

export default function App() {
  const ref = useRef<HTMLDivElement>(null);

  useEffect(() => {
    if (!ref.current) return;
    const chart = echarts.init(ref.current, null, { renderer: "svg" });

    const cmData = [cmM0, cmM1, cmM2, cmM3, cmM4, cmM5];
    const cmSim = [cmS0, cmS1, cmS2, cmS3, cmS4, cmS5];
    const puData = [puM0, puM1, puM2, puM3, puM4, puM5];
    const puSim = [puS0, puS1, puS2, puS3, puS4, puS5];

    const allSeries: any[] = [];
    cmSim.forEach((s) => allSeries.push(series(s, 1, BLACK, true, 0)));
    cmData.forEach((s, i) => allSeries.push(series(s, 1, COLORS[i], false, 0)));
    puSim.forEach((s) => allSeries.push(series(s, 0.01, BLACK, true, 4)));
    puData.forEach((s, i) => allSeries.push(series(s, 0.01, COLORS[i], false, 4)));

    const graphics: any[] = [
      text(100, 33.5, "\u00d710", 26),
      text(143.5, 25, "-3", 18),
      ...legendGraphics(CM_THRESH, [123.3, 160.5, 196.7], 230, "244", "Cm", 78.3, 89.3),
      ...legendGraphics(PU_THRESH, [702.7, 743.3, 781.7], 818.3, "240", "Pu", 658.3, 673.3),
      ...axisTitleGraphics(38.3, 572.7),
      ...axisTitleGraphics(618.3, 1155),
    ];

    chart.setOption({
      animation: false,
      backgroundColor: "#ffffff",
      grid: [
        { left: 100, top: 38, width: 479, height: 476 },
        { left: 100, top: 620, width: 479, height: 478 },
      ],
      xAxis: [...xAxes(0, 7), ...xAxes(1, 4)],
      yAxis: [
        ...yAxes(0, 52, 10, Y_TOP_MAJOR, Y_TOP_MINOR),
        ...yAxes(1, 0.3, 0.05, Y_BOT_MAJOR, Y_BOT_MINOR),
      ],
      series: allSeries,
      graphic: graphics,
    });

    return () => chart.dispose();
  }, []);

  return (
    <div
      ref={ref}
      style={{ position: "absolute", left: 0, top: 0, width: 596, height: 1163, background: "#fff" }}
    />
  );
}
